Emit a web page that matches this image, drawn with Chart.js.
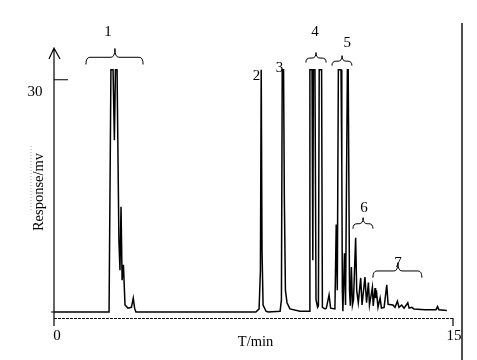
<!DOCTYPE html>
<html>
<head>
<meta charset="utf-8">
<script src="https://cdn.jsdelivr.net/npm/chart.js@4.4.1/dist/chart.umd.min.js"></script>
<style>
  body { margin: 0; background: #fff; }
  #wrap { width: 477px; height: 360px; }
</style>
</head>
<body>
<div id="wrap"><canvas id="chromChart"></canvas></div>
<script>
// retention time (min) and detector response (mV)
const times = [
  0.00, 2.07, 2.14, 2.22, 2.27, 2.31, 2.37, 2.44, 2.48, 2.52, 2.56, 2.61, 2.67, 2.78, 2.91, 2.98, 3.03, 3.08,
  7.59, 7.71, 7.76, 7.79, 7.82, 7.86, 7.97, 8.05,
  8.50, 8.55, 8.58, 8.63, 8.66, 8.70, 8.76, 8.87, 9.25, 9.59,
  9.62, 9.70, 9.73, 9.75, 9.81, 9.85, 9.91, 9.94, 9.97, 10.06, 10.09, 10.19, 10.24, 10.34, 10.40, 10.56,
  10.61, 10.65, 10.69, 10.79, 10.82, 10.84, 10.86, 10.92, 10.96, 11.03, 11.06, 11.11, 11.14, 11.18, 11.22, 11.26,
  11.34, 11.38, 11.44, 11.53, 11.58, 11.69, 11.75, 11.82, 11.86, 11.97, 12.00, 12.07, 12.09, 12.12, 12.18,
  12.26, 12.31, 12.41, 12.51, 12.56, 12.74, 12.82, 12.91, 12.97, 13.07, 13.16, 13.30, 13.35, 13.45, 13.53,
  13.95, 14.36, 14.42, 14.47, 14.77
];
const response = [
  0.0, 0.0, 31.3, 31.3, 22.2, 31.3, 31.3, 9.3, 5.4, 13.6, 4.1, 6.1, 0.9, 0.5, 0.6, 1.8, 0.5, 0.0,
  0.0, 0.4, 5.4, 31.3, 8.0, 0.9, 0.1, 0.0,
  0.1, 1.6, 31.3, 31.3, 14.5, 2.8, 1.2, 0.4, 0.1, 0.1,
  31.3, 31.3, 6.7, 31.3, 31.3, 1.6, 0.6, 0.8, 31.3, 31.3, 0.6, 0.4, 0.5, 2.2, 0.5, 0.4,
  11.3, 2.8, 31.3, 31.3, 18.8, 2.8, 0.1, 7.6, 0.9, 31.3, 31.3, 2.8, 0.8, 5.8, 0.9, 1.6,
  9.6, 2.8, 1.2, 4.4, 0.9, 4.5, 1.2, 3.8, 0.9, 3.2, 0.8, 3.1, 1.8, 2.8, 0.6,
  1.8, 0.5, 0.6, 3.5, 1.0, 0.9, 0.6, 1.4, 0.6, 0.9, 0.5, 1.2, 0.5, 0.6, 0.4,
  0.3, 0.3, 0.7, 0.3, 0.2
];
const xTicks = [0, 15];
const yTicks = [30];

// peak group labels: brace span (t1..t2), tip, brace level, label position
const groupNames = ['1', '2', '3', '4', '5', '6', '7'];
const labelT = [2.03, 7.61, 8.48, 9.81, 11.02, 11.65, 12.93];
const labelV = [36.2, 30.5, 31.5, 36.2, 34.8, 13.4, 6.3];
const braces = [
  { t1: 1.20, t2: 3.35, tip: 2.29, v: 32.9, h: 16 },
  { t1: 9.47, t2: 10.23, tip: 9.85, v: 32.8, h: 10 },
  { t1: 10.45, t2: 11.20, tip: 10.83, v: 32.4, h: 10 },
  { t1: 11.24, t2: 11.99, tip: 11.62, v: 11.4, h: 11 },
  { t1: 11.99, t2: 13.83, tip: 12.93, v: 5.3, h: 15 }
];

const serif = '"Liberation Serif", "DejaVu Serif", serif';

function drawBrace(ctx, x1, x2, xc, y, h) {
  const up = h * 0.55, down = h * 0.45, r = 4;
  ctx.beginPath();
  ctx.moveTo(x1, y + down);
  ctx.quadraticCurveTo(x1, y, x1 + r, y);
  ctx.lineTo(xc - r, y);
  ctx.quadraticCurveTo(xc, y, xc, y - up);
  ctx.moveTo(x2, y + down);
  ctx.quadraticCurveTo(x2, y, x2 - r, y);
  ctx.lineTo(xc + r, y);
  ctx.quadraticCurveTo(xc, y, xc, y - up);
  ctx.stroke();
}

const axesPlugin = {
  id: 'chromAxes',
  afterDraw(chart) {
    const { ctx, chartArea, scales } = chart;
    const xs = scales.x, ys = scales.y;
    const left = chartArea.left, right = chartArea.right, bottom = chartArea.bottom, top = chartArea.top;
    ctx.save();
    ctx.strokeStyle = '#000';
    ctx.fillStyle = '#000';

    // y axis with open arrow
    ctx.lineWidth = 1.2;
    ctx.beginPath();
    ctx.moveTo(left, bottom + 8);
    ctx.lineTo(left, top);
    ctx.moveTo(left - 5, top + 11);
    ctx.lineTo(left, top);
    ctx.lineTo(left + 6, top + 11);
    ctx.stroke();

    // y ticks
    const y0 = ys.getPixelForValue(0);
    ctx.beginPath();
    ctx.moveTo(left - 3, y0);
    ctx.lineTo(left, y0);
    yTicks.forEach(v => {
      const py = ys.getPixelForValue(v);
      ctx.moveTo(left, py);
      ctx.lineTo(left + 14, py);
    });
    ctx.stroke();
    ctx.font = '15px ' + serif;
    ctx.textAlign = 'center';
    ctx.textBaseline = 'middle';
    yTicks.forEach(v => {
      ctx.fillText(String(v), left - 19, ys.getPixelForValue(v) + 12);
    });

    // x axis (fine dotted) and ticks
    ctx.save();
    ctx.lineWidth = 1;
    ctx.strokeStyle = '#111';
    ctx.setLineDash([3, 1]);
    ctx.beginPath();
    ctx.moveTo(left, bottom + 0.5);
    ctx.lineTo(right, bottom + 0.5);
    ctx.stroke();
    ctx.restore();
    ctx.beginPath();
    ctx.moveTo(xs.getPixelForValue(xTicks[xTicks.length - 1]), bottom);
    ctx.lineTo(xs.getPixelForValue(xTicks[xTicks.length - 1]), bottom + 8);
    ctx.stroke();
    xTicks.forEach((t, i) => {
      const px = xs.getPixelForValue(t) + (i === 0 ? 3 : 1);
      ctx.fillText(String(t), px, bottom + 18);
    });
    ctx.font = '14.5px ' + serif;
    ctx.fillText('T/min', (left + right) / 2 + 2, bottom + 24);

    // y title
    ctx.save();
    ctx.strokeStyle = '#aaa';
    ctx.lineWidth = 1;
    ctx.setLineDash([1, 2]);
    ctx.beginPath();
    ctx.moveTo(31, 146);
    ctx.lineTo(31, 210);
    ctx.stroke();
    ctx.restore();
    ctx.save();
    ctx.translate(39, 192);
    ctx.rotate(-Math.PI / 2);
    ctx.fillText('Response/mv', 0, 0);
    ctx.restore();

    // right frame line
    ctx.lineWidth = 1.4;
    ctx.beginPath();
    ctx.moveTo(462, 23);
    ctx.lineTo(462, 360);
    ctx.stroke();

    // braces and group labels
    ctx.lineWidth = 1;
    braces.forEach(b => {
      drawBrace(ctx, xs.getPixelForValue(b.t1), xs.getPixelForValue(b.t2),
        xs.getPixelForValue(b.tip), ys.getPixelForValue(b.v), b.h);
    });
    ctx.font = '15px ' + serif;
    groupNames.forEach((n, i) => {
      ctx.fillText(n, xs.getPixelForValue(labelT[i]), ys.getPixelForValue(labelV[i]));
    });
    ctx.restore();
  }
};

new Chart(document.getElementById('chromChart').getContext('2d'), {
  type: 'line',
  data: {
    datasets: [{
      data: times.map((t, i) => ({ x: t, y: response[i] })),
      borderColor: '#000',
      borderWidth: 1.5,
      pointRadius: 0,
      tension: 0,
      fill: false
    }]
  },
  options: {
    responsive: true,
    maintainAspectRatio: false,
    animation: false,
    layout: { padding: { left: 54, right: 24, top: 48, bottom: 42 } },
    plugins: { legend: { display: false }, tooltip: { enabled: false } },
    scales: {
      x: { type: 'linear', min: 0, max: 15, display: false },
      y: { type: 'linear', min: -0.775, max: 34.1, display: false }
    }
  },
  plugins: [axesPlugin]
});
</script>
</body>
</html>
